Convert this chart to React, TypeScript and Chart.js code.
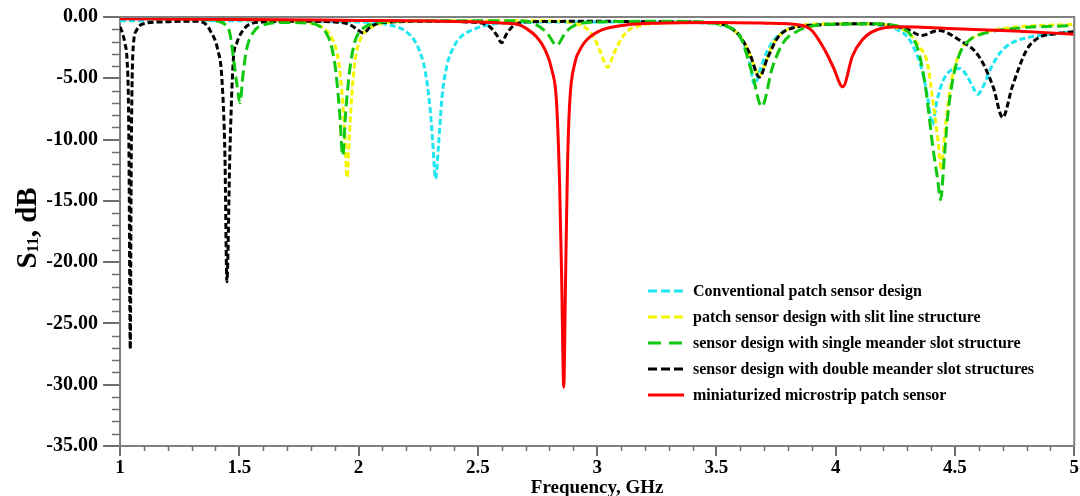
import React, { useEffect, useRef } from 'react';
import { Chart, registerables } from 'chart.js';

Chart.register(...registerables);

// ---- Data (frequency in GHz, S11 in dB) ----
const conventionalFreq = [1.0, 1.2, 1.5, 1.8, 2.0, 2.1, 2.15, 2.2, 2.25, 2.28, 2.3, 2.31, 2.323, 2.335, 2.35, 2.37, 2.4, 2.43, 2.47, 2.52, 2.6, 2.8, 3.0, 3.2, 3.4, 3.5, 3.55, 3.58, 3.61, 3.635, 3.66, 3.685, 3.71, 3.74, 3.78, 3.83, 3.9, 4.0, 4.1, 4.2, 4.25, 4.3, 4.33, 4.36, 4.385, 4.405, 4.425, 4.45, 4.48, 4.52, 4.55, 4.575, 4.595, 4.62, 4.65, 4.69, 4.74, 4.8, 4.9, 5.0];
const conventionalS11 = [-0.3, -0.3, -0.3, -0.35, -0.4, -0.55, -0.75, -1.2, -2.5, -4.5, -7.5, -10, -13.2, -10.5, -6.5, -4.0, -2.4, -1.6, -1.1, -0.75, -0.5, -0.4, -0.4, -0.4, -0.45, -0.6, -0.85, -1.2, -2.0, -3.3, -5.5, -4.2, -2.9, -1.9, -1.2, -0.8, -0.6, -0.55, -0.55, -0.7, -0.95, -1.6, -2.6, -4.2, -6.5, -8.8, -6.8, -5.2, -4.4, -4.2, -4.8, -5.7, -6.3, -5.6, -4.2, -2.9, -2.1, -1.7, -1.4, -1.2];

const slitFreq = [1.0, 1.3, 1.6, 1.75, 1.82, 1.86, 1.89, 1.91, 1.93, 1.942, 1.952, 1.962, 1.975, 1.99, 2.01, 2.04, 2.08, 2.15, 2.4, 2.7, 2.85, 2.92, 2.96, 2.99, 3.015, 3.044, 3.07, 3.1, 3.13, 3.18, 3.26, 3.4, 3.5, 3.56, 3.6, 3.63, 3.655, 3.68, 3.705, 3.73, 3.77, 3.83, 3.9, 4.05, 4.2, 4.26, 4.3, 4.35, 4.385, 4.405, 4.43, 4.443, 4.455, 4.47, 4.49, 4.52, 4.56, 4.62, 4.7, 4.8, 5.0];
const slitS11 = [-0.1, -0.15, -0.25, -0.35, -0.6, -1.0, -1.8, -3.0, -6.0, -9.5, -13.1, -9.5, -5.5, -3.0, -1.7, -1.0, -0.6, -0.4, -0.3, -0.3, -0.35, -0.6, -1.0, -1.8, -2.9, -4.1, -3.0, -1.8, -1.1, -0.7, -0.5, -0.45, -0.55, -0.9, -1.6, -2.6, -3.8, -4.8, -3.8, -2.5, -1.4, -0.8, -0.6, -0.55, -0.6, -0.9, -1.2, -2.4, -3.8, -6.5, -10.3, -12.5, -10.0, -7.2, -4.8, -2.9, -1.9, -1.3, -0.95, -0.75, -0.6];

const singleFreq = [1.0, 1.2, 1.35, 1.42, 1.44, 1.46, 1.48, 1.49, 1.503, 1.515, 1.53, 1.557, 1.6, 1.68, 1.8, 1.84, 1.87, 1.89, 1.905, 1.92, 1.934, 1.945, 1.96, 1.975, 1.99, 2.02, 2.07, 2.15, 2.4, 2.65, 2.73, 2.79, 2.83, 2.87, 2.91, 2.96, 3.0, 3.3, 3.5, 3.56, 3.6, 3.65, 3.69, 3.735, 3.78, 3.835, 3.93, 4.0, 4.15, 4.22, 4.28, 4.32, 4.35, 4.38, 4.405, 4.427, 4.44, 4.455, 4.47, 4.49, 4.52, 4.56, 4.63, 4.77, 5.0];
const singleS11 = [-0.05, -0.1, -0.2, -0.4, -0.6, -1.3, -4.0, -5.5, -7.0, -4.8, -2.7, -1.3, -0.65, -0.45, -0.5, -0.8, -1.5, -2.7, -4.5, -7.6, -11.3, -8.0, -4.8, -2.8, -1.7, -0.9, -0.5, -0.35, -0.3, -0.3, -0.5, -1.3, -2.3, -1.2, -0.65, -0.45, -0.4, -0.35, -0.5, -0.9, -1.6, -4.6, -7.3, -4.1, -2.1, -1.2, -0.65, -0.6, -0.55, -0.6, -0.9, -1.6, -3.0, -6.2, -10.3, -13.2, -14.9, -11.5, -8.0, -5.2, -3.0, -1.9, -1.3, -0.9, -0.7];

const doubleFreq = [1.0, 1.01, 1.02, 1.03, 1.035, 1.038, 1.043, 1.047, 1.051, 1.056, 1.07, 1.11, 1.18, 1.25, 1.32, 1.36, 1.377, 1.41, 1.427, 1.44, 1.448, 1.461, 1.475, 1.49, 1.516, 1.557, 1.615, 1.75, 1.9, 1.96, 1.99, 2.02, 2.05, 2.1, 2.3, 2.5, 2.55, 2.58, 2.6, 2.62, 2.65, 2.7, 3.0, 3.3, 3.5, 3.56, 3.6, 3.64, 3.68, 3.715, 3.76, 3.82, 3.93, 4.1, 4.2, 4.3, 4.36, 4.43, 4.52, 4.6, 4.66, 4.7, 4.74, 4.8, 4.85, 4.93, 5.0];
const doubleS11 = [-0.8, -1.3, -2.1, -3.6, -6.5, -12.0, -27.1, -12.0, -5.0, -2.3, -1.06, -0.5, -0.4, -0.35, -0.35, -0.6, -1.06, -2.7, -5.0, -11.5, -21.6, -10.8, -3.5, -2.1, -1.06, -0.5, -0.4, -0.35, -0.4, -0.6, -0.95, -1.3, -0.8, -0.45, -0.35, -0.45, -0.8, -1.5, -2.1, -1.4, -0.7, -0.4, -0.35, -0.4, -0.5, -0.9, -1.6, -3.0, -4.9, -3.3, -1.6, -0.9, -0.65, -0.55, -0.6, -1.0, -1.5, -1.1, -1.9, -3.2, -5.7, -8.2, -5.7, -2.7, -1.7, -1.35, -1.2];

const miniFreq = [1.0, 1.5, 2.0, 2.3, 2.5, 2.6, 2.675, 2.7, 2.745, 2.78, 2.81, 2.83, 2.843, 2.852, 2.86, 2.868, 2.876, 2.885, 2.906, 2.93, 2.955, 3.02, 3.12, 3.26, 3.5, 3.7, 3.85, 3.9, 3.93, 3.96, 3.99, 4.03, 4.07, 4.11, 4.17, 4.27, 4.5, 4.75, 5.0];
const miniS11 = [-0.15, -0.2, -0.28, -0.33, -0.4, -0.5, -0.65, -0.9, -1.6, -2.6, -4.3, -7.0, -13.8, -22.0, -30.2, -21.0, -12.0, -7.0, -3.8, -2.6, -1.9, -1.06, -0.65, -0.5, -0.45, -0.5, -0.65, -1.1, -1.9, -2.9, -4.1, -5.7, -3.2, -1.9, -1.06, -0.8, -0.95, -1.15, -1.4];

const seriesLabels = [
  'Conventional patch sensor design',
  'patch sensor design with slit line structure',
  'sensor design with single meander slot structure',
  'sensor design with double meander slot structures',
  'miniaturized microstrip patch sensor',
];

const xAxisTitle = 'Frequency, GHz';
const yMin = -35;
const yMax = 0;
const xMin = 1;
const xMax = 5;

const SERIF = '"Liberation Serif", "Times New Roman", serif';

const zip = (f: number[], s: number[]) => f.map((x, i) => ({ x, y: s[i] }));

const decorPlugin = {
  id: 'decor',
  afterDraw(chart: any) {
    const { ctx, chartArea, scales } = chart;
    const { left, right, top, bottom } = chartArea;
    const xs = scales.x;
    const ys = scales.y;
    ctx.save();
    // frame top & right
    ctx.strokeStyle = '#808080';
    ctx.lineWidth = 2;
    ctx.beginPath();
    ctx.moveTo(left, top);
    ctx.lineTo(right, top);
    ctx.lineTo(right, bottom);
    ctx.stroke();
    // minor ticks
    ctx.strokeStyle = '#6e6e6e';
    ctx.lineWidth = 1.5;
    for (let v = yMin; v <= yMax; v += 1) {
      if (v % 5 === 0) continue;
      const py = Math.round(ys.getPixelForValue(v)) + 0.5;
      ctx.beginPath();
      ctx.moveTo(left - 8, py);
      ctx.lineTo(left, py);
      ctx.stroke();
    }
    for (let k = 10; k <= 50; k++) {
      if (k % 5 === 0) continue;
      const px = Math.round(xs.getPixelForValue(k / 10)) + 0.5;
      ctx.beginPath();
      ctx.moveTo(px, bottom);
      ctx.lineTo(px, bottom + 5);
      ctx.stroke();
    }
    // x title
    ctx.fillStyle = '#000';
    ctx.font = `bold 19px ${SERIF}`;
    ctx.textAlign = 'center';
    ctx.textBaseline = 'middle';
    ctx.fillText(xAxisTitle, (left + right) / 2, 488);
    // y title with subscript
    ctx.save();
    ctx.translate(36, 228);
    ctx.rotate(-Math.PI / 2);
    ctx.textAlign = 'left';
    ctx.textBaseline = 'alphabetic';
    const big = `bold 29px ${SERIF}`;
    const small = `bold 16px ${SERIF}`;
    ctx.font = big;
    const wS = ctx.measureText('S').width;
    const wRest = ctx.measureText(', dB').width;
    ctx.font = small;
    const wSub = ctx.measureText('11').width;
    const total = wS + wSub + wRest;
    let x0 = -total / 2;
    ctx.font = big;
    ctx.fillText('S', x0, 0);
    x0 += wS;
    ctx.font = small;
    ctx.fillText('11', x0, 2);
    x0 += wSub;
    ctx.font = big;
    ctx.fillText(', dB', x0, 0);
    ctx.restore();
    // legend
    const rows = [291, 317, 343, 369, 395];
    chart.data.datasets.forEach((ds: any, i: number) => {
      const y = rows[i];
      ctx.save();
      ctx.strokeStyle = ds.borderColor;
      ctx.lineWidth = 3;
      ctx.setLineDash(ds.legendDash || []);
      ctx.beginPath();
      ctx.moveTo(648, y);
      ctx.lineTo(684, y);
      ctx.stroke();
      ctx.restore();
      ctx.fillStyle = '#000';
      ctx.font = `bold 16px ${SERIF}`;
      ctx.textAlign = 'left';
      ctx.textBaseline = 'middle';
      ctx.fillText(ds.label, 693, y + 1);
    });
    ctx.restore();
  },
};

export default function App() {
  const ref = useRef<HTMLCanvasElement>(null);
  useEffect(() => {
    document.body.style.margin = '0';
    const canvas = ref.current;
    if (!canvas) return;
    const chart = new Chart(canvas, {
      type: 'line',
      data: {
        datasets: [
          {
            label: seriesLabels[0],
            data: zip(conventionalFreq, conventionalS11),
            borderColor: '#1EE6F2',
            borderWidth: 3,
            borderDash: [6, 3],
            legendDash: [9, 4],
            order: 4,
          } as any,
          {
            label: seriesLabels[1],
            data: zip(slitFreq, slitS11),
            borderColor: '#F5F500',
            borderWidth: 3,
            borderDash: [6, 3],
            legendDash: [9, 4],
            order: 3,
          },
          {
            label: seriesLabels[2],
            data: zip(singleFreq, singleS11),
            borderColor: '#10C810',
            borderWidth: 3,
            borderDash: [11, 5],
            legendDash: [13, 8],
            order: 1,
          },
          {
            label: seriesLabels[3],
            data: zip(doubleFreq, doubleS11),
            borderColor: '#000000',
            borderWidth: 3,
            borderDash: [6, 3],
            legendDash: [9, 4],
            order: 2,
          },
          {
            label: seriesLabels[4],
            data: zip(miniFreq, miniS11),
            borderColor: '#FF0000',
            borderWidth: 3,
            borderDash: [],
            legendDash: [],
            order: 0,
          },
        ],
      },
      options: {
        responsive: false,
        animation: false,
        layout: { padding: { top: 17, right: 5, left: 0, bottom: 0 } },
        elements: {
          point: { radius: 0 },
          line: { cubicInterpolationMode: 'monotone', fill: false },
        },
        plugins: {
          legend: { display: false },
          tooltip: { enabled: false },
          title: { display: false },
        },
        scales: {
          x: {
            type: 'linear',
            min: xMin,
            max: xMax,
            ticks: {
              stepSize: 0.5,
              color: '#000',
              padding: 1,
              maxRotation: 0,
              font: { family: SERIF, size: 19, weight: 'bold' },
              callback: (v: any) => String(Number(v)),
            },
            grid: {
              drawOnChartArea: false,
              drawTicks: true,
              tickLength: 10,
              color: '#6e6e6e',
              lineWidth: 2,
            },
            border: { display: true, color: '#808080', width: 2 },
            afterFit: (s: any) => {
              s.height = 50;
            },
          },
          y: {
            type: 'linear',
            min: yMin,
            max: yMax,
            ticks: {
              stepSize: 5,
              color: '#000',
              padding: 5,
              font: { family: SERIF, size: 20, weight: 'bold' },
              callback: (v: any) => Number(v).toFixed(2),
            },
            grid: {
              drawOnChartArea: false,
              drawTicks: true,
              tickLength: 17,
              color: '#6e6e6e',
              lineWidth: 2,
            },
            border: { display: true, color: '#808080', width: 2 },
            afterFit: (s: any) => {
              s.width = 120;
            },
          },
        },
      } as any,
      plugins: [decorPlugin],
    });
    return () => chart.destroy();
  }, []);
  return (
    <canvas ref={ref} width={1080} height={496} style={{ display: 'block', width: 1080, height: 496 }} />
  );
}
